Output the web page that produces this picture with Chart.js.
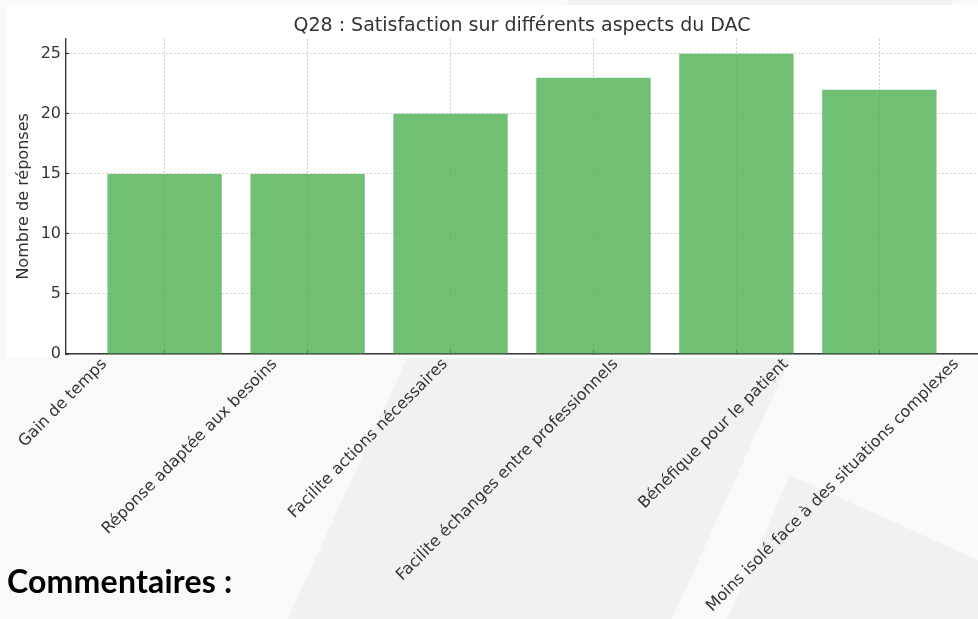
<!DOCTYPE html>
<html lang="fr">
<head>
<meta charset="utf-8">
<title>Q28 : Satisfaction sur différents aspects du DAC</title>
<script src="https://cdn.jsdelivr.net/npm/chart.js@4.4.1/dist/chart.umd.min.js"></script>
<style>
    html, body {
        margin: 0;
        padding: 0;
    }
    body {
        width: 978px;
        height: 619px;
        overflow: hidden;
        position: relative;
        background: #f9f9f9;
    }
    .page-bg {
        position: absolute;
        left: 0;
        top: 0;
    }
    .chart-panel {
        position: absolute;
        left: 7px;
        top: 5px;
        width: 971px;
        height: 353px;
        background: #ffffff;
    }
    .chart-wrap {
        position: absolute;
        left: 0;
        top: 0;
        width: 978px;
        height: 619px;
    }
    .comments {
        position: absolute;
        left: 7px;
        top: 565px;
        margin: 0;
        font-family: Lato, 'Open Sans', sans-serif;
        font-weight: bold;
        font-size: 32px;
        line-height: 32px;
        letter-spacing: 0.2px;
        color: #000;
    }
</style>
</head>
<body>
    <!-- fond de page (formes diagonales claires) -->
    <svg class="page-bg" width="978" height="619" viewBox="0 0 978 619">
        <polygon points="570,0 953,0 672,619 288,619" fill="#f0f1f1"/>
        <polygon points="790,475 978,560 978,619 727,619" fill="#f0f1f1"/>
    </svg>
    <div class="chart-panel"></div>
    <div class="chart-wrap">
        <canvas id="q28Chart" width="978" height="619"></canvas>
    </div>
    <p class="comments">Commentaires :</p>

<script>
// Données de la question Q28
const categories = [
    'Gain de temps',
    'Réponse adaptée aux besoins',
    'Facilite actions nécessaires',
    'Facilite échanges entre professionnels',
    'Bénéfique pour le patient',
    'Moins isolé face à des situations complexes'
];
const responses = [15, 15, 20, 23, 25, 22];
const yTickValues = [0, 5, 10, 15, 20, 25];

// Couleurs
const TEXT_COLOR = '#333333';
const GRID_COLOR = '#cccccc';
const AXIS_COLOR = '#3a3a3a';
const BAR_COLOR = 'rgba(76, 175, 80, 0.8)';
const FONT = 'DejaVu Sans';

document.addEventListener('DOMContentLoaded', function() {
    const ctx = document.getElementById('q28Chart');

    new Chart(ctx, {
        type: 'bar',
        data: {
            datasets: [{
                label: 'Nombre de réponses',
                data: responses.map((v, i) => ({ x: i, y: v })),
                xAxisID: 'x',
                yAxisID: 'y',
                backgroundColor: BAR_COLOR,
                borderWidth: 0,
                barPercentage: 0.8,
                categoryPercentage: 1
            }]
        },
        options: {
            responsive: false,
            animation: false,
            devicePixelRatio: 1,
            layout: { padding: 0 },
            plugins: {
                legend: { display: false },
                tooltip: { enabled: false },
                title: {
                    display: true,
                    text: 'Q28 : Satisfaction sur différents aspects du DAC',
                    fullSize: false,
                    color: TEXT_COLOR,
                    font: { family: FONT, size: 19, weight: 'normal' },
                    padding: { top: 15, bottom: 1 }
                }
            },
            scales: {
                // axe des barres (grille verticale et petites graduations)
                x: {
                    type: 'linear',
                    position: 'bottom',
                    min: -0.69,
                    max: 5.69,
                    offset: false,
                    z: 1,
                    weight: 0,
                    afterBuildTicks: axis => {
                        axis.ticks = categories.map((c, i) => ({ value: i }));
                    },
                    afterFit: axis => {
                        axis.height = 0;
                        axis.paddingLeft = 0;
                        axis.paddingRight = 0;
                    },
                    ticks: { display: false },
                    grid: {
                        offset: false,
                        color: GRID_COLOR,
                        lineWidth: 1,
                        drawTicks: true,
                        tickLength: -4,
                        tickColor: AXIS_COLOR,
                        tickWidth: 1.2,
                        tickBorderDash: []
                    },
                    border: { display: true, color: AXIS_COLOR, width: 1.4, dash: [2, 2] }
                },
                // axe des libellés (inclinés à 45°)
                xLabels: {
                    type: 'linear',
                    position: 'bottom',
                    min: -0.2253,
                    max: 5.1268,
                    offset: false,
                    weight: 1,
                    afterBuildTicks: axis => {
                        axis.ticks = categories.map((c, i) => ({ value: i }));
                    },
                    afterFit: axis => {
                        axis.height = 265;
                        axis.paddingLeft = 0;
                        axis.paddingRight = 0;
                    },
                    grid: { display: false, drawTicks: false, offset: false },
                    border: { display: false },
                    ticks: {
                        autoSkip: false,
                        minRotation: 45,
                        maxRotation: 45,
                        padding: 1,
                        color: TEXT_COLOR,
                        font: { family: FONT, size: 16 },
                        callback: value => categories[value] ?? ''
                    }
                },
                y: {
                    type: 'linear',
                    position: 'left',
                    min: 0,
                    max: 26.25,
                    afterBuildTicks: axis => {
                        axis.ticks = yTickValues.map(v => ({ value: v }));
                    },
                    afterFit: axis => {
                        axis.width = 66;
                    },
                    ticks: {
                        color: TEXT_COLOR,
                        padding: 8,
                        font: { family: FONT, size: 16 }
                    },
                    grid: {
                        color: GRID_COLOR,
                        lineWidth: 1,
                        drawTicks: true,
                        tickLength: -3,
                        tickColor: AXIS_COLOR,
                        tickWidth: 1.2,
                        tickBorderDash: []
                    },
                    border: { display: true, color: AXIS_COLOR, width: 1.4, dash: [2, 2] },
                    title: {
                        display: true,
                        text: 'Nombre de réponses',
                        color: TEXT_COLOR,
                        font: { family: FONT, size: 16 },
                        padding: { top: 14, bottom: 0 }
                    }
                }
            }
        }
    });
});
</script>
</body>
</html>
